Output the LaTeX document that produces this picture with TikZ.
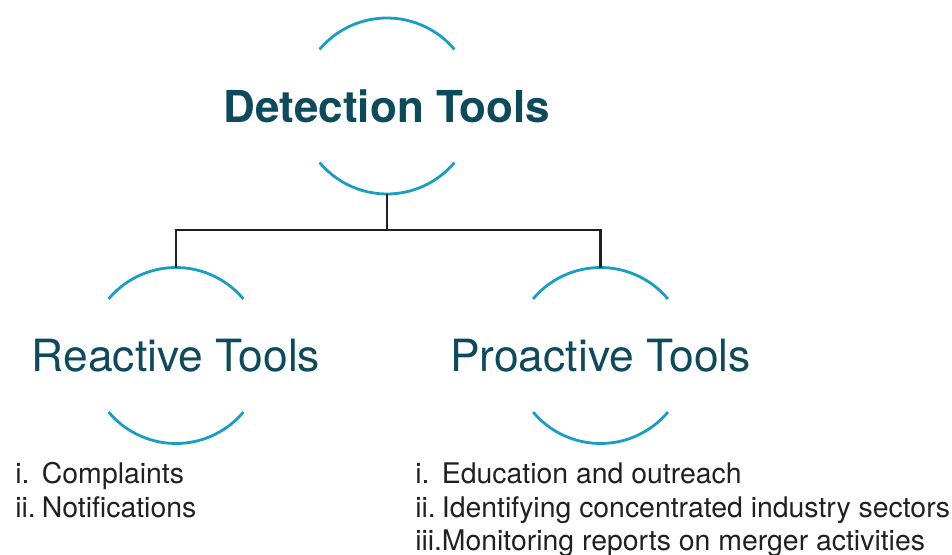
\documentclass[tikz,border=0pt]{standalone}
\usepackage{fontspec}
\setmainfont{TeX Gyre Heros}
\usetikzlibrary{calc}

\definecolor{ringblue}{RGB}{24,158,194}
\definecolor{titleteal}{RGB}{13,74,92}
\definecolor{inkgray}{RGB}{35,31,32}

\tikzset{
  ring/.style={circle,minimum size=132pt,inner sep=0pt,outer sep=0pt},
  ringarc/.style={ringblue,line width=2.1pt},
  link/.style={inkgray,line width=1.8pt},
  maintitle/.style={font=\fontsize{33}{37}\selectfont\bfseries,text=titleteal},
  subtitle/.style={font=\fontsize{33.3}{37}\selectfont,text=titleteal},
  item/.style={anchor=base west,inner sep=0pt,font=\fontsize{21.3}{25}\selectfont,text=inkgray}
}
\newcommand{\itemlabel}[1]{\makebox[20pt][l]{#1}}

\begin{document}
\begin{tikzpicture}
        [x=0.75pt,y=0.75pt]
        \useasboundingbox (0,0) rectangle (952,554);

        % rings
        \node[ring] (det) at (387,448) {};
        \node[ring] (rea) at (176,198.5) {};
        \node[ring] (pro) at (600.5,198.5) {};

        \foreach \r in {det,rea,pro}
        {\draw[ringarc] (\r.40) arc[start angle=40,end angle=140,radius=66pt];
         \draw[ringarc] (\r.220) arc[start angle=220,end angle=320,radius=66pt];}

        \node[maintitle] (dettext) at (det) {Detection Tools};
        \node[subtitle] (reatext) at (rea) {Reactive Tools};
        \node[subtitle] (protext) at (pro) {Proactive Tools};

        % tree
        \coordinate (fork) at ($(det.south)+(0,-36)$);
        \draw[link] (det.south) -- (fork);
        \draw[link] (fork) -| (rea.north);
        \draw[link] (fork) -| (pro.north);

        % lists
        \node[item] (r1) at (15,71) {\itemlabel{i.}Complaints};
        \node[item] (r2) at (15,37) {\itemlabel{ii.}Notifications};

        \node[item] (p1) at (415,71) {\itemlabel{i.}Education and outreach};
        \node[item] (p2) at (415,37) {\itemlabel{ii.}Identifying concentrated industry sectors};
        \node[item] (p3) at (415,4) {\itemlabel{iii.}Monitoring reports on merger activities};
      \end{tikzpicture}
\end{document}
